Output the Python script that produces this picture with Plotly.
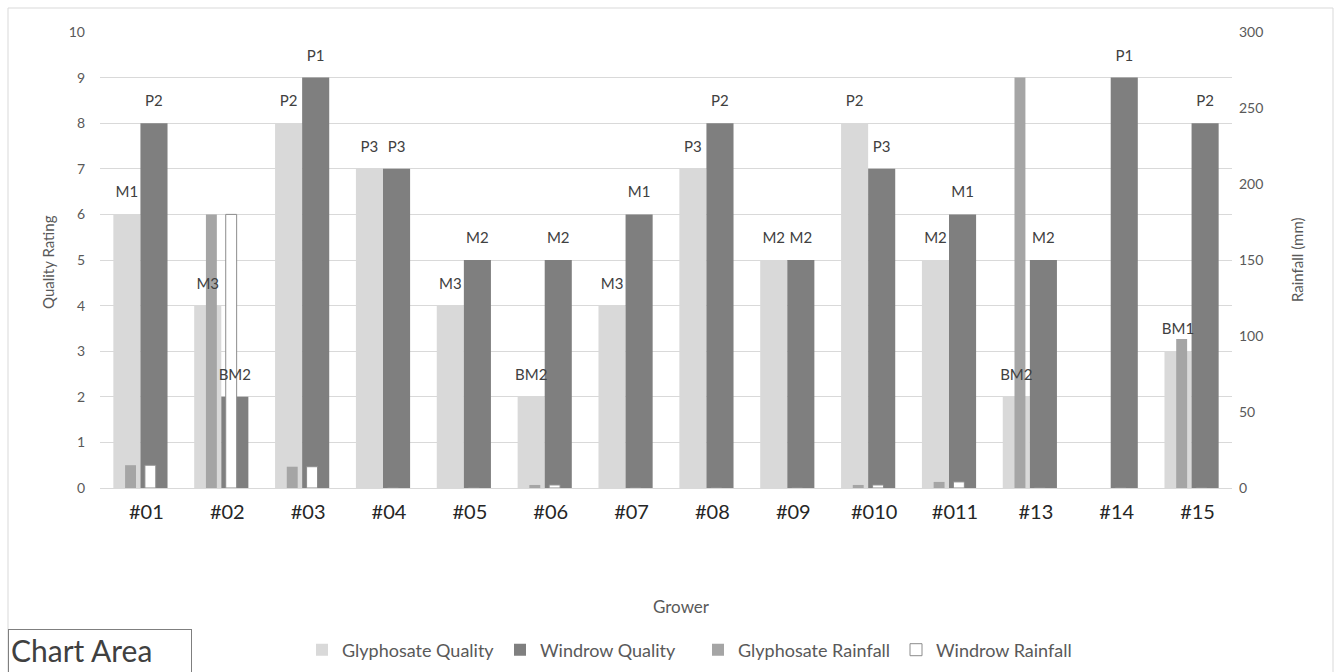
import plotly.graph_objects as go

growers = ["#01", "#02", "#03", "#04", "#05", "#06", "#07", "#08", "#09", "#010", "#011", "#13", "#14", "#15"]
glyphosate_quality = [6, 4, 8, 7, 4, 2, 4, 7, 5, 8, 5, 2, None, 3]
windrow_quality = [8, 2, 9, 7, 5, 5, 6, 8, 5, 7, 6, 5, 9, 8]
glyphosate_labels = ["M1", "M3", "P2", "P3", "M3", "BM2", "M3", "P3", "M2", "P2", "M2", "BM2", "", "BM1"]
windrow_labels = ["P2", "BM2", "P1", "P3", "M2", "M2", "M1", "P2", "M2", "P3", "M1", "M2", "P1", "P2"]
glyphosate_rainfall = [15, 180, 14, 0, 0, 2, 0, 0, 0, 2, 4, 270, 0, 98]
windrow_rainfall = [15, 180, 14, 0, 0, 2, 0, 0, 0, 2, 4, 0, 0, 0]

FONT = "Lato"
L, R, T, B = 100, 107, 32, 184
W, H = 1339, 672
pw, ph = W - L - R, H - T - B


def px(x):
    return (x - L) / pw


def py(y):
    return (H - B - y) / ph


fig = go.Figure()
fig.add_trace(go.Bar(x=growers, y=glyphosate_quality, name="Glyphosate Quality",
                     marker=dict(color="#d9d9d9", line=dict(width=0)),
                     offset=-0.335, width=0.335, yaxis="y"))
fig.add_trace(go.Bar(x=growers, y=windrow_quality, name="Windrow Quality",
                     marker=dict(color="#7f7f7f", line=dict(width=0)),
                     offset=0, width=0.335, yaxis="y"))
fig.add_trace(go.Bar(x=growers, y=glyphosate_rainfall, name="Glyphosate Rainfall",
                     marker=dict(color="#a5a5a5", line=dict(width=0)),
                     offset=-0.19, width=0.135, yaxis="y2"))
fig.add_trace(go.Bar(x=growers, y=windrow_rainfall, name="Windrow Rainfall",
                     marker=dict(color="#ffffff", line=dict(width=1, color="#8c8c8c")),
                     offset=0.055, width=0.135, yaxis="y2"))
# data labels on top layer
lab_font = dict(family=FONT, size=15, color="#404040")
fig.add_trace(go.Bar(x=growers, y=glyphosate_quality, text=glyphosate_labels,
                     textposition="outside", textfont=lab_font, constraintext="none",
                     cliponaxis=False, marker=dict(color="rgba(0,0,0,0)", line=dict(width=0)),
                     offset=-0.335, width=0.335, yaxis="y3", showlegend=False, hoverinfo="skip"))
fig.add_trace(go.Bar(x=growers, y=windrow_quality, text=windrow_labels,
                     textposition="outside", textfont=lab_font, constraintext="none",
                     cliponaxis=False, marker=dict(color="rgba(0,0,0,0)", line=dict(width=0)),
                     offset=0, width=0.335, yaxis="y3", showlegend=False, hoverinfo="skip"))

tick_font = dict(family=FONT, size=14, color="#595959")
fig.update_layout(
    width=W, height=H,
    margin=dict(l=L, r=R, t=T, b=B, autoexpand=False),
    paper_bgcolor="white", plot_bgcolor="white",
    barmode="overlay",
    font=dict(family=FONT, color="#595959"),
    xaxis=dict(type="category", showgrid=False, showline=False, zeroline=False,
               ticks="", tickfont=dict(family=FONT, size=20, color="#262626"),
               ticklabelstandoff=10, ticklabelshift=6),
    yaxis=dict(range=[0, 10], dtick=1, showgrid=True, gridcolor="#d9d9d9", gridwidth=1,
               zeroline=True, zerolinecolor="#d9d9d9", zerolinewidth=1,
               showline=False, ticks="", tickfont=tick_font, ticklabelstandoff=14),
    yaxis2=dict(range=[0, 300], dtick=50, overlaying="y", side="right", showgrid=False,
                zeroline=False, showline=False, ticks="", tickfont=tick_font,
                ticklabelstandoff=6),
    yaxis3=dict(range=[-0.24, 9.76], overlaying="y", visible=False),
    legend=dict(orientation="h", x=px(698), xanchor="center", y=py(650), yanchor="middle",
                font=dict(family=FONT, size=18, color="#595959"),
                entrywidth=153, entrywidthmode="pixels", bgcolor="rgba(0,0,0,0)",
                itemclick=False),
    showlegend=True,
)

fig.add_annotation(text="Quality Rating", xref="paper", yref="paper", x=px(48), y=py(262),
                   textangle=-90, showarrow=False, xanchor="center", yanchor="middle",
                   font=dict(family=FONT, size=15, color="#595959"))
fig.add_annotation(text="Rainfall (mm)", xref="paper", yref="paper", x=px(1297), y=py(260),
                   textangle=-90, showarrow=False, xanchor="center", yanchor="middle",
                   font=dict(family=FONT, size=15, color="#595959"))
fig.add_annotation(text="Grower", xref="paper", yref="paper", x=px(681), y=py(606),
                   showarrow=False, xanchor="center", yanchor="middle",
                   font=dict(family=FONT, size=17, color="#595959"))
fig.add_annotation(text="Chart Area", xref="paper", yref="paper", x=px(8), y=py(629),
                   showarrow=False, xanchor="left", yanchor="top", align="left",
                   width=178, height=39, valign="top",
                   bordercolor="#7f7f7f", borderwidth=1, borderpad=2, bgcolor="white",
                   font=dict(family=FONT, size=30, color="#404040"))
fig.add_shape(type="rect", xref="paper", yref="paper", x0=px(8), x1=px(1333), y0=py(700), y1=py(8),
              line=dict(color="#d9d9d9", width=1), fillcolor="rgba(0,0,0,0)", layer="below")

fig.write_html("out.html")
